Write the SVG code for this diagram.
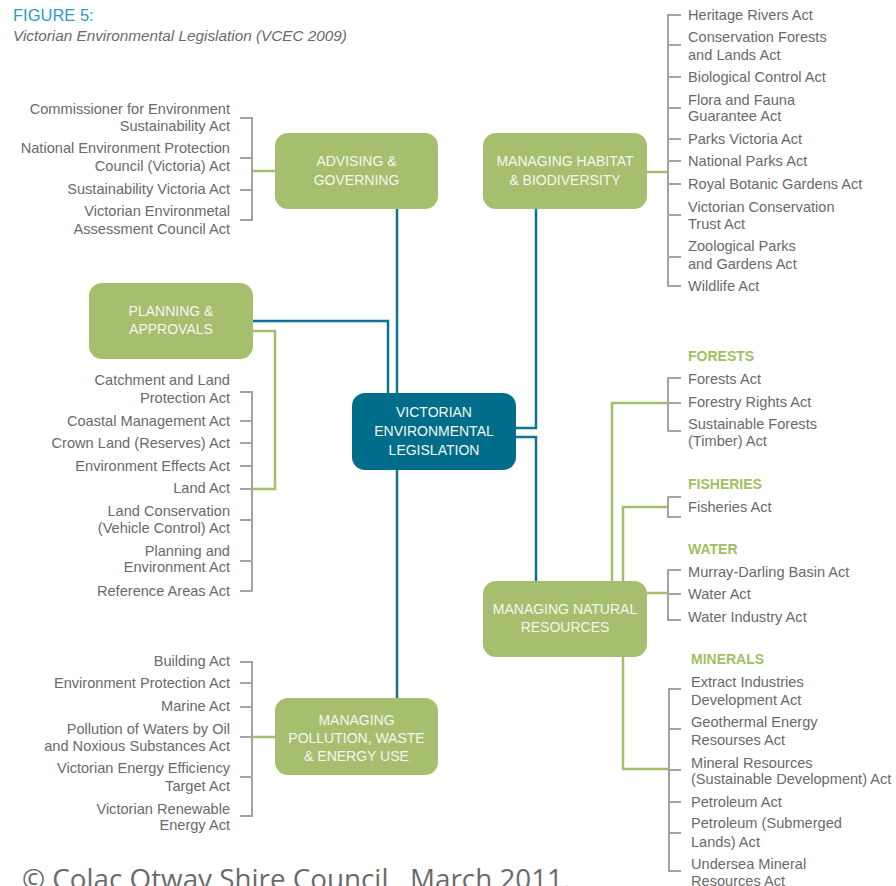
<svg xmlns="http://www.w3.org/2000/svg" width="896" height="886" viewBox="0 0 896 886">
<style>
.bg{fill:#ffffff}
.gn{fill:#A5BF6F}
.tl{fill:#006E8A}
.nt{font-family:"Liberation Sans",Arial,sans-serif;font-size:14px;fill:#F4F7EE;text-anchor:middle}
.lt{font-family:"Liberation Sans",Arial,sans-serif;font-size:14.6px;fill:#6A6A6A}
.le{text-anchor:end}
.hd{font-family:"Liberation Sans",Arial,sans-serif;font-size:14px;font-weight:bold;fill:#A2BE62}
.ct{fill:none;stroke:#0B7592;stroke-width:2.5}
.cg{fill:none;stroke:#A3BF6A;stroke-width:2.5}
.br{fill:none;stroke:#A3A3A3;stroke-width:2}
</style>
<rect class="bg" x="0" y="0" width="896" height="886"/>
<g id="title">
<text x="13" y="21" style="font-family:'Liberation Sans',Arial,sans-serif;font-size:16.5px;fill:#2F9AC4">FIGURE 5:</text>
<text x="13" y="41" style="font-family:'Liberation Sans',Arial,sans-serif;font-size:15.3px;font-style:italic;fill:#6A6A6A">Victorian Environmental Legislation (VCEC 2009)</text>
</g>
<g id="connectors">
<path class="ct" d="M397 209V393"/>
<path class="ct" d="M253 321H388V393"/>
<path class="ct" d="M536 209V428H516"/>
<path class="ct" d="M516 437H536V581"/>
<path class="ct" d="M397 470V698"/>
<path class="cg" d="M275 171H252"/>
<path class="cg" d="M647 172H668"/>
<path class="cg" d="M253 331H275V489H252"/>
<path class="cg" d="M275 737H252"/>
<path class="cg" d="M612 581V403H668"/>
<path class="cg" d="M623 581V507H668"/>
<path class="cg" d="M647 593H668"/>
<path class="cg" d="M623 657V769H669"/>
</g>
<g id="brackets">
<path class="br" d="M240 118H252V220H240M240 158H252M240 190H252"/>
<path class="br" d="M681 15H668V286H681M668 45H681M668 77H681M668 108H681M668 139H681M668 161H681M668 184H681M668 215H681M668 257H681"/>
<path class="br" d="M240 392H252V591H240M240 421H252M240 443H252M240 466H252M240 489H252M240 520H252M240 561H252"/>
<path class="br" d="M681 378H668V431H681M668 403H681"/>
<path class="br" d="M681 497H668V517H681"/>
<path class="br" d="M681 570H668V620H681M668 594H681"/>
<path class="br" d="M681 689H669V871H681M669 729H681M669 770H681M669 802H681M669 833H681"/>
<path class="br" d="M240 662H252V816H240M240 683H252M240 707H252M240 737H252M240 777H252"/>
</g>
<g id="pollution-acts">
<text class="lt le" x="230" y="666">Building Act</text>
<text class="lt le" x="230" y="688">Environment Protection Act</text>
<text class="lt le" x="230" y="711">Marine Act</text>
<text class="lt le" x="230" y="734">Pollution of Waters by Oil</text>
<text class="lt le" x="230" y="751">and Noxious Substances Act</text>
<text class="lt le" x="230" y="773">Victorian Energy Efficiency</text>
<text class="lt le" x="230" y="791">Target Act</text>
<text class="lt le" x="230" y="814">Victorian Renewable</text>
<text class="lt le" x="230" y="830">Energy Act</text>
</g>
<g id="central">
<rect class="tl" x="352" y="393" width="164" height="77" rx="13"/>
<text class="nt" x="434" y="417">VICTORIAN</text>
<text class="nt" x="434" y="436">ENVIRONMENTAL</text>
<text class="nt" x="434" y="455">LEGISLATION</text>
</g>
<g id="advising">
<rect class="gn" x="275" y="133" width="163" height="76" rx="13"/>
<text class="nt" x="356.5" y="166">ADVISING &amp;</text>
<text class="nt" x="356.5" y="185">GOVERNING</text>
</g>
<g id="habitat">
<rect class="gn" x="483" y="133" width="164" height="76" rx="13"/>
<text class="nt" x="565" y="166">MANAGING HABITAT</text>
<text class="nt" x="565" y="185">&amp; BIODIVERSITY</text>
</g>
<g id="planning">
<rect class="gn" x="89" y="283" width="164" height="76" rx="13"/>
<text class="nt" x="171" y="316">PLANNING &amp;</text>
<text class="nt" x="171" y="334">APPROVALS</text>
</g>
<g id="natural">
<rect class="gn" x="483" y="581" width="164" height="76" rx="13"/>
<text class="nt" x="565" y="614">MANAGING NATURAL</text>
<text class="nt" x="565" y="632">RESOURCES</text>
</g>
<g id="pollution">
<rect class="gn" x="275" y="698" width="163" height="77" rx="13"/>
<text class="nt" x="356.5" y="725">MANAGING</text>
<text class="nt" x="356.5" y="743">POLLUTION, WASTE</text>
<text class="nt" x="356.5" y="761">&amp; ENERGY USE</text>
</g>
<g id="advising-acts">
<text class="lt le" x="230" y="114">Commissioner for Environment</text>
<text class="lt le" x="230" y="131">Sustainability Act</text>
<text class="lt le" x="230" y="153">National Environment Protection</text>
<text class="lt le" x="230" y="171">Council (Victoria) Act</text>
<text class="lt le" x="230" y="194">Sustainability Victoria Act</text>
<text class="lt le" x="230" y="216">Victorian Environmetal</text>
<text class="lt le" x="230" y="234">Assessment Council Act</text>
</g>
<g id="habitat-acts">
<text class="lt" x="688" y="20">Heritage Rivers Act</text>
<text class="lt" x="688" y="42">Conservation Forests</text>
<text class="lt" x="688" y="60">and Lands Act</text>
<text class="lt" x="688" y="82">Biological Control Act</text>
<text class="lt" x="688" y="105">Flora and Fauna</text>
<text class="lt" x="688" y="121">Guarantee Act</text>
<text class="lt" x="688" y="144">Parks Victoria Act</text>
<text class="lt" x="688" y="166">National Parks Act</text>
<text class="lt" x="688" y="189">Royal Botanic Gardens Act</text>
<text class="lt" x="688" y="212">Victorian Conservation</text>
<text class="lt" x="688" y="229">Trust Act</text>
<text class="lt" x="688" y="251">Zoological Parks</text>
<text class="lt" x="688" y="269">and Gardens Act</text>
<text class="lt" x="688" y="291">Wildlife Act</text>
</g>
<g id="planning-acts">
<text class="lt le" x="230" y="385">Catchment and Land</text>
<text class="lt le" x="230" y="403">Protection Act</text>
<text class="lt le" x="230" y="426">Coastal Management Act</text>
<text class="lt le" x="230" y="448">Crown Land (Reserves) Act</text>
<text class="lt le" x="230" y="471">Environment Effects Act</text>
<text class="lt le" x="230" y="493">Land Act</text>
<text class="lt le" x="230" y="516">Land Conservation</text>
<text class="lt le" x="230" y="533">(Vehicle Control) Act</text>
<text class="lt le" x="230" y="556">Planning and</text>
<text class="lt le" x="230" y="572">Environment Act</text>
<text class="lt le" x="230" y="596">Reference Areas Act</text>
</g>
<g id="natural-acts">
<text class="hd" x="688" y="361">FORESTS</text>
<text class="lt" x="688" y="384">Forests Act</text>
<text class="lt" x="688" y="407">Forestry Rights Act</text>
<text class="lt" x="688" y="429">Sustainable Forests</text>
<text class="lt" x="688" y="446">(Timber) Act</text>
<text class="hd" x="688" y="489">FISHERIES</text>
<text class="lt" x="688" y="512">Fisheries Act</text>
<text class="hd" x="688" y="554">WATER</text>
<text class="lt" x="688" y="577">Murray-Darling Basin Act</text>
<text class="lt" x="688" y="599">Water Act</text>
<text class="lt" x="688" y="622">Water Industry Act</text>
<text class="hd" x="691" y="664">MINERALS</text>
<text class="lt" x="691" y="687">Extract Industries</text>
<text class="lt" x="691" y="705">Development Act</text>
<text class="lt" x="691" y="727">Geothermal Energy</text>
<text class="lt" x="691" y="745">Resourses Act</text>
<text class="lt" x="691" y="768">Mineral Resources</text>
<text class="lt" x="691" y="784">(Sustainable Development) Act</text>
<text class="lt" x="691" y="807">Petroleum Act</text>
<text class="lt" x="691" y="828">Petroleum (Submerged</text>
<text class="lt" x="691" y="847">Lands) Act</text>
<text class="lt" x="691" y="869">Undersea Mineral</text>
<text class="lt" x="691" y="886">Resources Act</text>
</g>
<g id="footer">
<text x="22" y="889" style="font-family:'Open Sans','Liberation Sans',sans-serif;font-size:27.8px;fill:#6A6A6A">© Colac Otway Shire Council,&#160; March 2011.</text>
</g>
</svg>
